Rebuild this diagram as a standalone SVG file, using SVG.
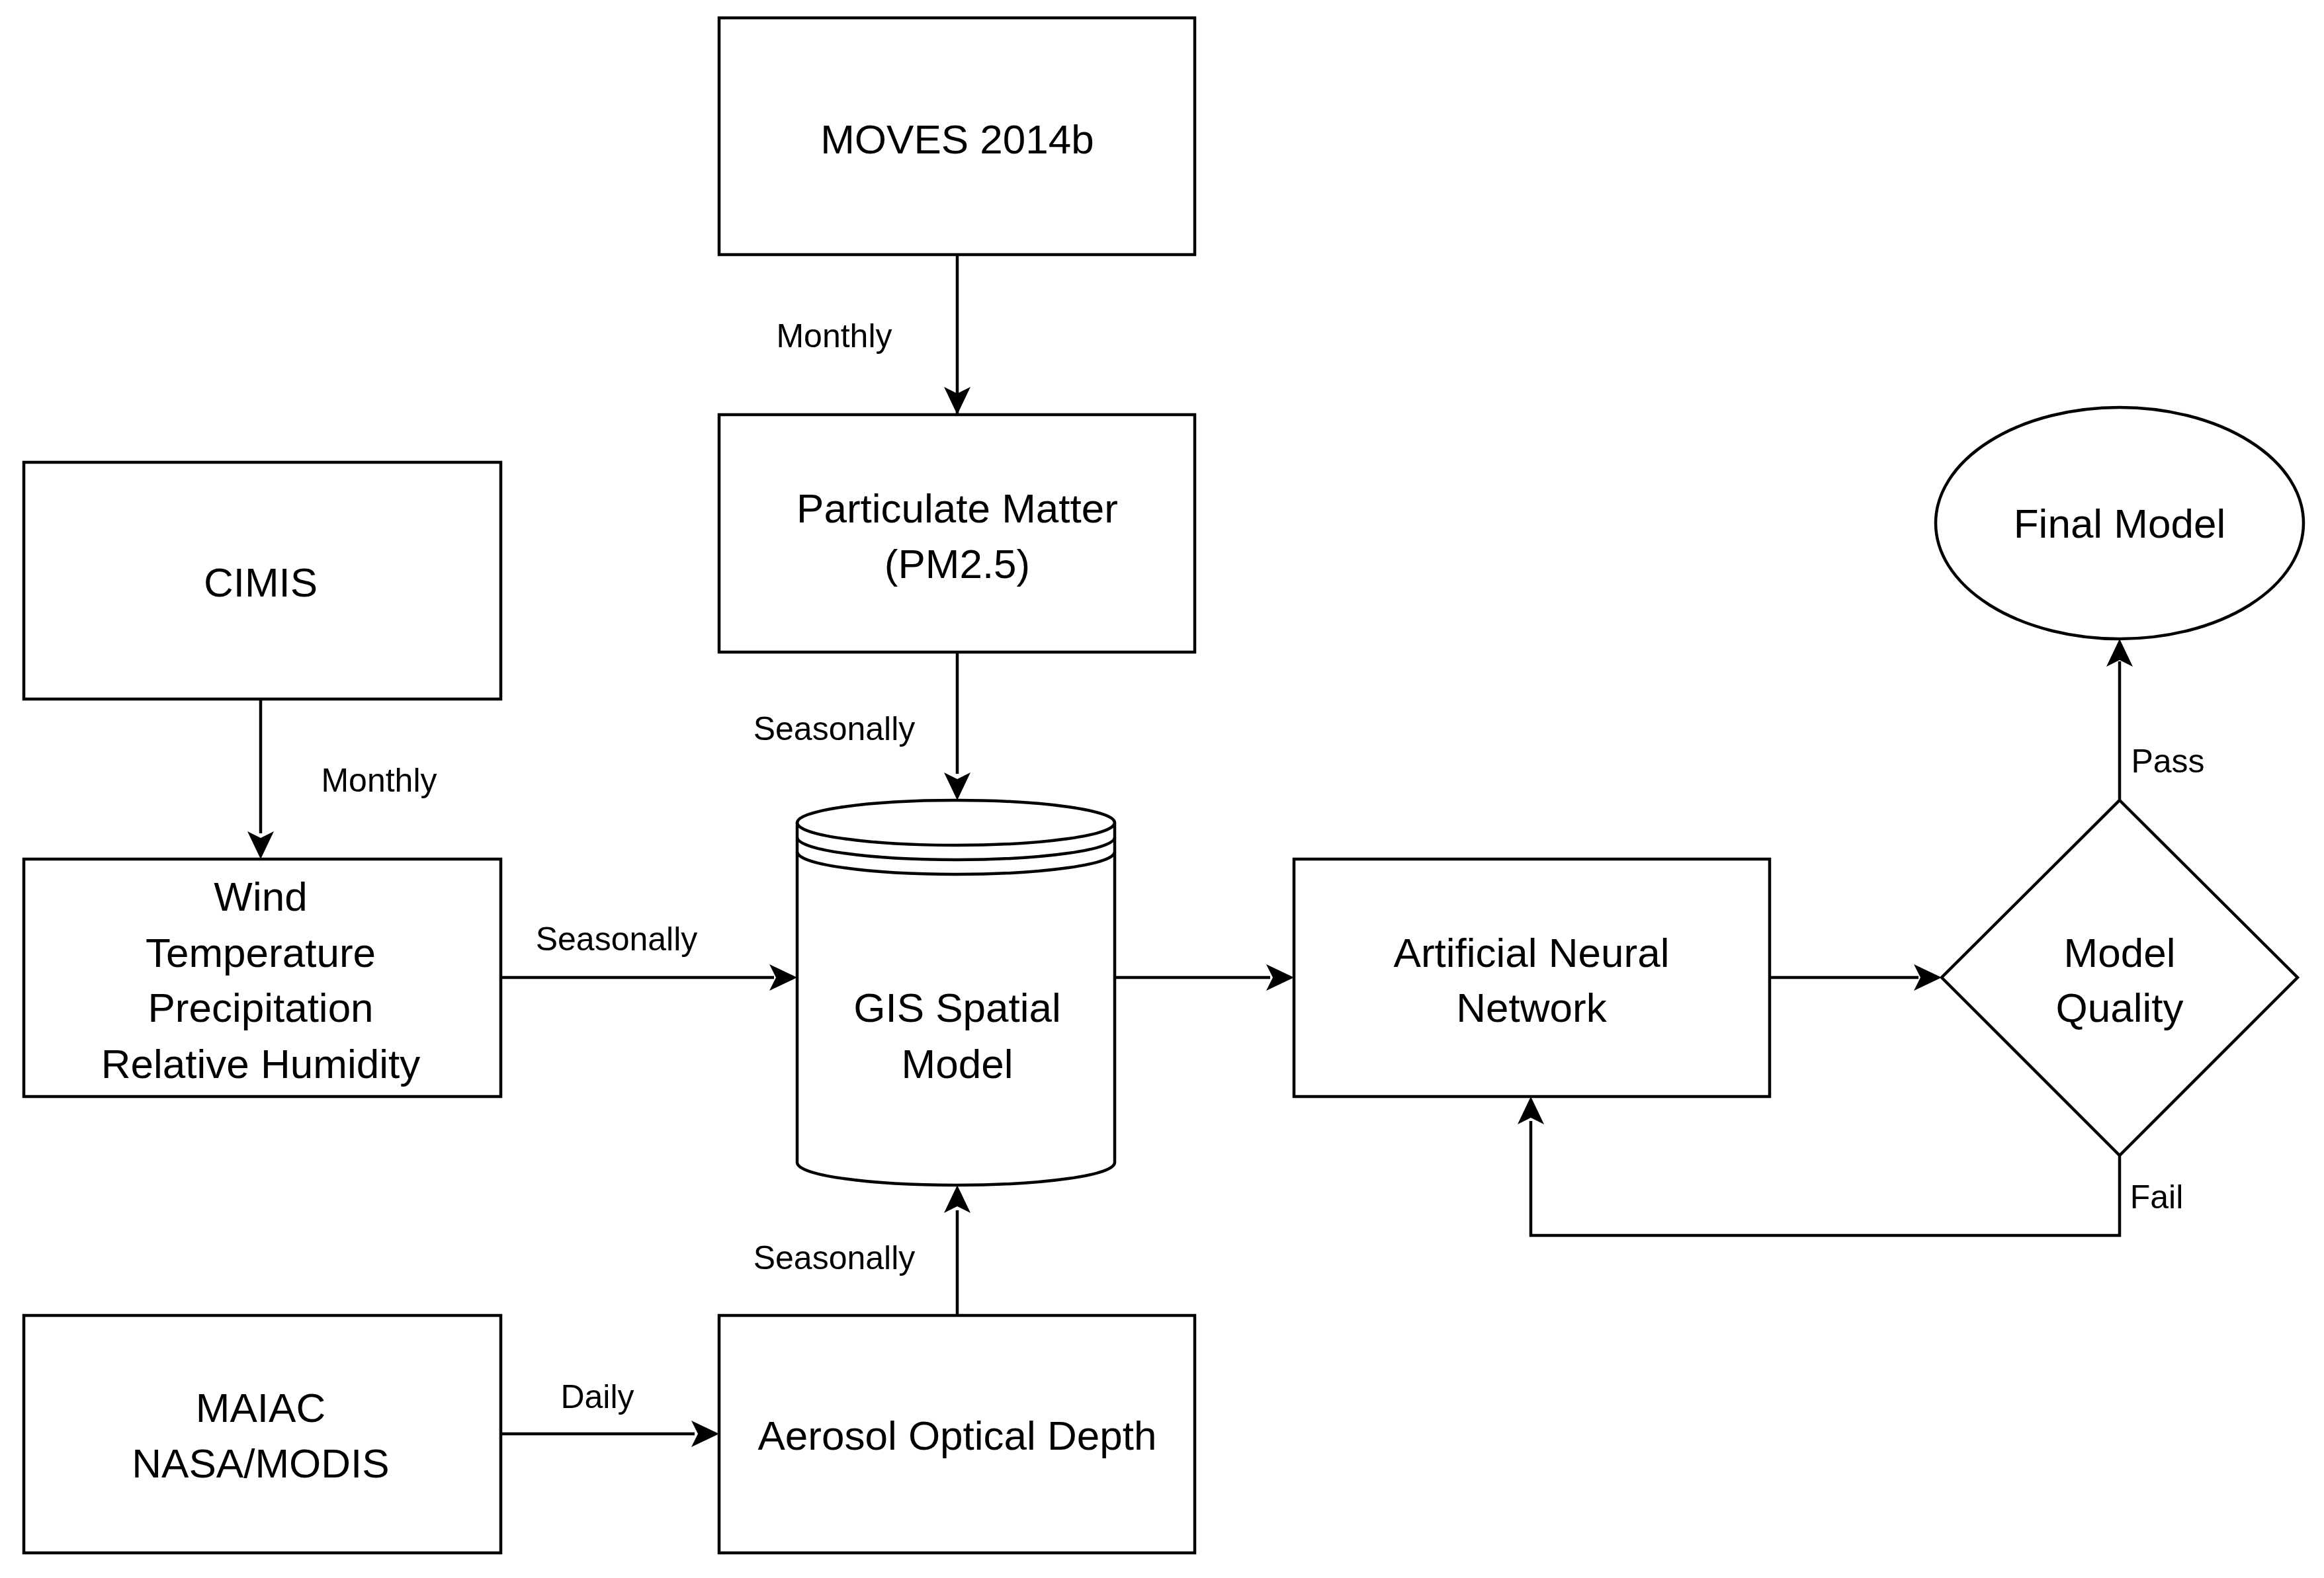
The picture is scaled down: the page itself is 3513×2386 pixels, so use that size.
<svg xmlns="http://www.w3.org/2000/svg" width="3513" height="2386" viewBox="0 0 3513 2386">
<style>
.n{fill:#fff;stroke:#000;stroke-width:4.5}
.t{font-family:"Liberation Sans",Arial,sans-serif;font-size:62px;text-anchor:middle;dominant-baseline:central;fill:#000}
.l{font-family:"Liberation Sans",Arial,sans-serif;font-size:50px;text-anchor:middle;dominant-baseline:central;fill:#000}
.c{fill:none;stroke:#000;stroke-width:4.5;marker-end:url(#a)}
</style>
<defs><marker id="a" markerWidth="10" markerHeight="10" refX="8" refY="5" orient="auto" markerUnits="userSpaceOnUse" viewBox="0 0 10 10"><path d="M0,0 L10,5 L0,10 L2.5,5 Z" fill="#000"/></marker></defs>
<rect width="3513" height="2386" fill="#fff"/>
<g id="connectors">
<path class="c" d="M1447,385 V627" style="marker-end:none"/><path d="M1427,585 L1447,627 L1467,585 L1447,595 Z"/>
<path class="c" d="M1447,986 V1170" style="marker-end:none"/><path d="M1427,1168 L1447,1210 L1467,1168 L1447,1178 Z"/>
<path class="c" d="M394,1057 V1260" style="marker-end:none"/><path d="M374,1257 L394,1299 L414,1257 L394,1267 Z"/>
<path class="c" d="M757,1478 H1170" style="marker-end:none"/><path d="M1163,1458 L1205,1478 L1163,1498 L1173,1478 Z"/>
<path class="c" d="M757,2168 H1050" style="marker-end:none"/><path d="M1045,2148 L1087,2168 L1045,2188 L1055,2168 Z"/>
<path class="c" d="M1447,1989 V1830" style="marker-end:none"/><path d="M1427,1834 L1447,1792 L1467,1834 L1447,1824 Z"/>
<path class="c" d="M1685,1478 H1920" style="marker-end:none"/><path d="M1914,1458 L1956,1478 L1914,1498 L1924,1478 Z"/>
<path class="c" d="M2675,1478 H2900" style="marker-end:none"/><path d="M2893,1458 L2935,1478 L2893,1498 L2903,1478 Z"/>
<path class="c" d="M3204,1210 V1000" style="marker-end:none"/><path d="M3184,1008 L3204,966 L3224,1008 L3204,998 Z"/>
<path class="c" d="M3204,1747 V1868 H2314 V1695" style="marker-end:none"/><path d="M2294,1700 L2314,1658 L2334,1700 L2314,1690 Z"/>
<text class="l" x="1261" y="508">Monthly</text>
<text class="l" x="1261" y="1102">Seasonally</text>
<text class="l" x="573" y="1180">Monthly</text>
<text class="l" x="932" y="1420">Seasonally</text>
<text class="l" x="903" y="2112">Daily</text>
<text class="l" x="1261" y="1902">Seasonally</text>
<text class="l" x="3277" y="1151">Pass</text>
<text class="l" x="3260" y="1810">Fail</text>
</g>
<g id="moves"><rect class="n" x="1087" y="27" width="719" height="358"/><text class="t" x="1447" y="210">MOVES 2014b</text></g>
<g id="pm"><rect class="n" x="1087" y="627" width="719" height="359"/><text class="t" x="1447" y="768">Particulate Matter</text><text class="t" x="1447" y="852">(PM2.5)</text></g>
<g id="cimis"><rect class="n" x="36" y="699" width="721" height="358"/><text class="t" x="394" y="880">CIMIS</text></g>
<g id="wind"><rect class="n" x="36" y="1299" width="721" height="359"/><text class="t" x="394" y="1355">Wind</text><text class="t" x="394" y="1440">Temperature</text><text class="t" x="394" y="1523">Precipitation</text><text class="t" x="394" y="1608">Relative Humidity</text></g>
<g id="maiac"><rect class="n" x="36" y="1989" width="721" height="359"/><text class="t" x="394" y="2128">MAIAC</text><text class="t" x="394" y="2212">NASA/MODIS</text></g>
<g id="aod"><rect class="n" x="1087" y="1989" width="719" height="359"/><text class="t" x="1447" y="2170">Aerosol Optical Depth</text></g>
<g id="gis">
<path class="n" d="M1205,1244 A240,34 0 0 1 1685,1244 V1758 A240,34 0 0 1 1205,1758 Z"/>
<path class="n" d="M1205,1244 A240,34 0 0 0 1685,1244" style="fill:none"/>
<path class="n" d="M1205,1266 A240,34 0 0 0 1685,1266" style="fill:none"/>
<path class="n" d="M1205,1288 A240,34 0 0 0 1685,1288" style="fill:none"/>
<text class="t" x="1447" y="1523">GIS Spatial</text><text class="t" x="1447" y="1608">Model</text></g>
<g id="ann"><rect class="n" x="1956" y="1299" width="719" height="359"/><text class="t" x="2315" y="1440">Artificial Neural</text><text class="t" x="2315" y="1523">Network</text></g>
<g id="quality"><path class="n" d="M3204,1210 L3473,1478 L3204,1747 L2935,1478 Z"/><text class="t" x="3204" y="1440">Model</text><text class="t" x="3204" y="1523">Quality</text></g>
<g id="final"><ellipse class="n" cx="3204" cy="791" rx="278" ry="175"/><text class="t" x="3204" y="791">Final Model</text></g>
</svg>
